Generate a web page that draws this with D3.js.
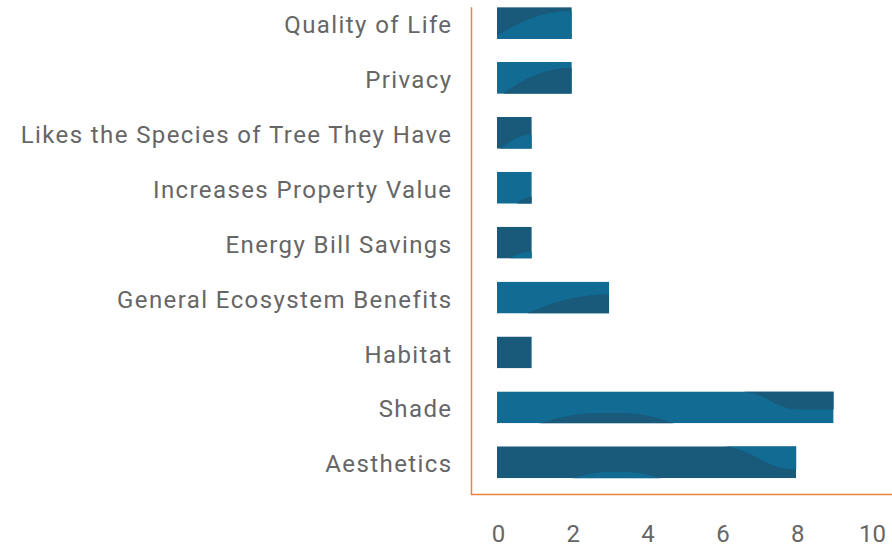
<!DOCTYPE html>
<html>
<head>
<meta charset="utf-8">
<script src="https://cdn.jsdelivr.net/npm/d3@7"></script>
<style>
  body { margin: 0; background: #fff; }
  svg { display: block; }
  .label text, .ticks text { font-family: Roboto, "Noto Sans", sans-serif; fill: #666; }
</style>
</head>
<body>
<div class="svg-container"></div>
<script>
// chart data, top to bottom
var categories = ["Quality of Life", "Privacy", "Likes the Species of Tree They Have",
  "Increases Property Value", "Energy Bill Savings", "General Ecosystem Benefits",
  "Habitat", "Shade", "Aesthetics"];
var counts = [2, 2, 0.93, 0.93, 0.93, 3, 0.93, 9, 8];
var tickValues = [0, 2, 4, 6, 8, 10];

var pageWidth = 892,
  pageHeight = 550;

var lightBlue = "#116b93",
  darkBlue = "#19597a",
  axisColor = "#ee8040";

// wave texture on each bar (fractions of the bar box), purely decorative
// wedge: from bottom at fx to right edge at fy ; crest: top-right wave ; hump: bottom bump
var waves = [
  { base: darkBlue, wedge: [0, 0.9, 0.12] },
  { base: lightBlue, wedge: [0.08, 1, 0.18] },
  { base: darkBlue, wedge: [0.1, 1, 0.56] },
  { base: lightBlue, wedge: [0.57, 1, 0.78] },
  { base: darkBlue, wedge: [0.37, 1, 0.78] },
  { base: lightBlue, wedge: [0.27, 1, 0.4] },
  { base: darkBlue },
  { base: lightBlue, crest: [0.72, 0.9, 0.57], hump: [0.12, 0.34, 0.68, 0.53] },
  { base: darkBlue, crest: [0.74, 1.0, 0.72], hump: [0.25, 0.4, 0.8, 0.55] }
];

var svg = d3.select(".svg-container")
  .append("svg")
  .attr("width", pageWidth)
  .attr("height", pageHeight);

var xScale = d3.scaleLinear().domain([0, 10]).range([497, 871]);
var yScale = d3.scaleBand()
  .domain(categories)
  .range([-4.4, -4.4 + 54.9 * categories.length])
  .paddingInner(0.42)
  .paddingOuter(0.21);

var axisX = 471.5,
  axisY = 494.5;

// bars
var bars = svg.append("g").attr("class", "bars");
categories.forEach(function(c, i) {
  var x0 = xScale(0),
    y0 = yScale(c),
    w = xScale(counts[i]) - xScale(0),
    h = yScale.bandwidth(),
    deco = waves[i],
    other = deco.base == lightBlue ? darkBlue : lightBlue;

  var g = bars.append("g").attr("transform", "translate(" + x0 + "," + y0 + ")");
  var clipId = "clip" + i;
  g.append("clipPath").attr("id", clipId)
    .append("rect").attr("width", w).attr("height", h);

  var inner = g.append("g").attr("clip-path", "url(#" + clipId + ")");
  inner.append("rect").attr("width", w).attr("height", h).attr("fill", deco.base);

  if (deco.wedge) {
    var a = deco.wedge[0] * w, ay = deco.wedge[1] * h, by = deco.wedge[2] * h;
    var p = d3.path();
    p.moveTo(a, h);
    if (ay < h) p.lineTo(a, ay);
    p.quadraticCurveTo(a + (w - a) * 0.5, by, w, by);
    p.lineTo(w, h);
    p.closePath();
    inner.append("path").attr("d", p.toString()).attr("fill", other);
  }
  if (deco.crest) {
    var s = deco.crest[0] * w, e = deco.crest[1] * w, ey = deco.crest[2] * h;
    var q = d3.path();
    q.moveTo(s, 0);
    q.bezierCurveTo(s + (e - s) * 0.45, 0, e - (e - s) * 0.45, ey, e, ey);
    q.lineTo(w + 1, ey);
    q.lineTo(w + 1, 0);
    q.closePath();
    inner.append("path").attr("d", q.toString()).attr("fill", other);
  }
  if (deco.hump) {
    var hs = deco.hump[0] * w, pk = deco.hump[1] * w, py = deco.hump[2] * h, he = deco.hump[3] * w;
    var r = d3.path();
    r.moveTo(hs, h + 1);
    r.bezierCurveTo(hs + (pk - hs) * 0.45, py, pk - (pk - hs) * 0.3, py, pk, py);
    r.bezierCurveTo(pk + (he - pk) * 0.3, py, he - (he - pk) * 0.45, py, he, h + 1);
    r.closePath();
    inner.append("path").attr("d", r.toString()).attr("fill", other);
  }
});

// orange axis lines
svg.append("line")
  .attr("x1", axisX).attr("x2", axisX)
  .attr("y1", yScale(categories[0])).attr("y2", axisY)
  .attr("stroke", axisColor).attr("stroke-width", 1.5);
svg.append("line")
  .attr("x1", axisX - 0.75).attr("x2", pageWidth)
  .attr("y1", axisY).attr("y2", axisY)
  .attr("stroke", axisColor).attr("stroke-width", 1.5);

// category labels
var yAxis = d3.axisLeft(yScale).tickSize(0).tickPadding(19);
svg.append("g")
  .attr("class", "label")
  .attr("transform", "translate(" + axisX + ",0)")
  .call(yAxis)
  .call(function(g) { g.select(".domain").remove(); })
  .selectAll("text")
  .attr("font-size", 24)
  .attr("letter-spacing", "1.4px")
  .attr("dy", "0.42em");

// value ticks
var xAxis = d3.axisBottom(xScale).tickValues(tickValues).tickSize(0).tickPadding(30)
  .tickFormat(d3.format("d"));
svg.append("g")
  .attr("class", "ticks")
  .attr("transform", "translate(0," + axisY + ")")
  .call(xAxis)
  .call(function(g) { g.select(".domain").remove(); })
  .selectAll("text")
  .attr("font-size", 24)
  .attr("dx", 1);
</script>
</body>
</html>
